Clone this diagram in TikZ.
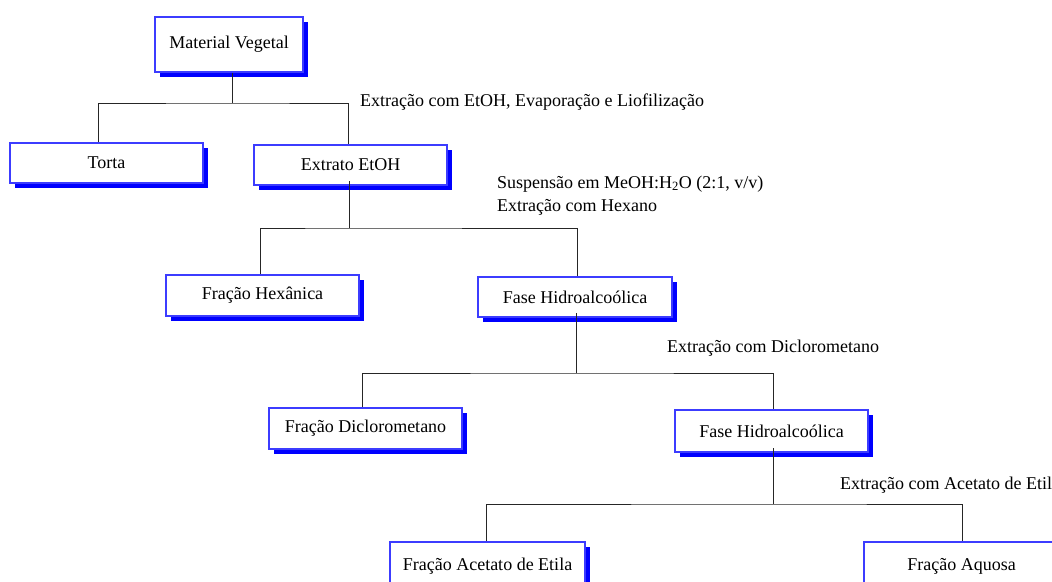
\documentclass[tikz,border=0pt]{standalone}
\usepackage{fontspec}
\setmainfont{Liberation Serif}
\usetikzlibrary{shadows}
\definecolor{boxline}{RGB}{60,60,255}
\definecolor{shadowblue}{RGB}{0,0,255}
\begin{document}
\begin{tikzpicture}[x=1pt,y=-1pt,
  box/.style={draw=boxline, line width=1.1pt, fill=white, inner sep=0pt,
    font=\fontsize{18}{21}\selectfont,
    drop shadow={fill=shadowblue, opacity=1, shadow xshift=4.5pt, shadow yshift=-4.5pt}},
  conn/.style={draw=black!85, line width=0.9pt},
  lbl/.style={anchor=west, inner sep=0pt, font=\fontsize{18}{21}\selectfont}]
\useasboundingbox (0,0) rectangle (1052,581);
% boxes
\node[box, minimum width=148pt, minimum height=55pt] (mv) at (229,44.5) {Material Vegetal};
\node[box, minimum width=193pt, minimum height=40pt] (torta) at (106.5,163) {Torta};
\node[box, minimum width=193pt, minimum height=40pt] (extrato) at (350.5,165) {Extrato EtOH};
\node[box, minimum width=193pt, minimum height=41pt] (hex) at (262.5,295.5) {Fração Hexânica};
\node[box, minimum width=194pt, minimum height=40pt] (fh1) at (575,297) {Fase Hidroalcoólica};
\node[box, minimum width=193pt, minimum height=41pt] (dcm) at (365.5,428.5) {Fração Diclorometano};
\node[box, minimum width=193pt, minimum height=42pt] (fh2) at (771.5,431) {Fase Hidroalcoólica};
\node[box, minimum width=195pt, minimum height=48pt] (acet) at (487.5,566) {Fração Acetato de Etila};
\node[box, minimum width=195pt, minimum height=48pt] (aq) at (961.5,566) {Fração Aquosa};
% junction levels
\coordinate (j1) at (232,103);
\coordinate (j2) at (349,228);
\coordinate (j3) at (576,373);
\coordinate (j4) at (773,504);
% connectors
\draw[conn] ([xshift=3pt]mv.south) -- (j1);
\draw[conn] ([xshift=-8.5pt]torta.north) |- (j1) -| ([xshift=-2.5pt]extrato.north);
\draw[conn] ([xshift=-1.5pt,yshift=4.5pt]extrato.south) -- (j2);
\draw[conn] ([xshift=-2.5pt]hex.north) |- (j2) -| ([xshift=2pt]fh1.north);
\draw[conn] ([xshift=1pt,yshift=4.5pt]fh1.south) -- (j3);
\draw[conn] ([xshift=-3.5pt]dcm.north) |- (j3) -| ([xshift=1.5pt]fh2.north);
\draw[conn] ([xshift=1.5pt,yshift=4.5pt]fh2.south) -- (j4);
\draw[conn] ([xshift=-1.5pt]acet.north) |- (j4) -| ([xshift=0.5pt]aq.north);
% labels
\node[lbl] (l1) at (360,102) {Extração com EtOH, Evaporação e Liofilização};
\node[lbl] (l2) at (497,184) {Suspensão em MeOH:H\textsubscript{2}O (2:1, v/v)};
\node[lbl] (l3) at (497,207) {Extração com Hexano};
\node[lbl] (l4) at (667,348) {Extração com Diclorometano};
\node[lbl] (l5) at (840,485) {Extração com Acetato de Etila};
\end{tikzpicture}
\end{document}
